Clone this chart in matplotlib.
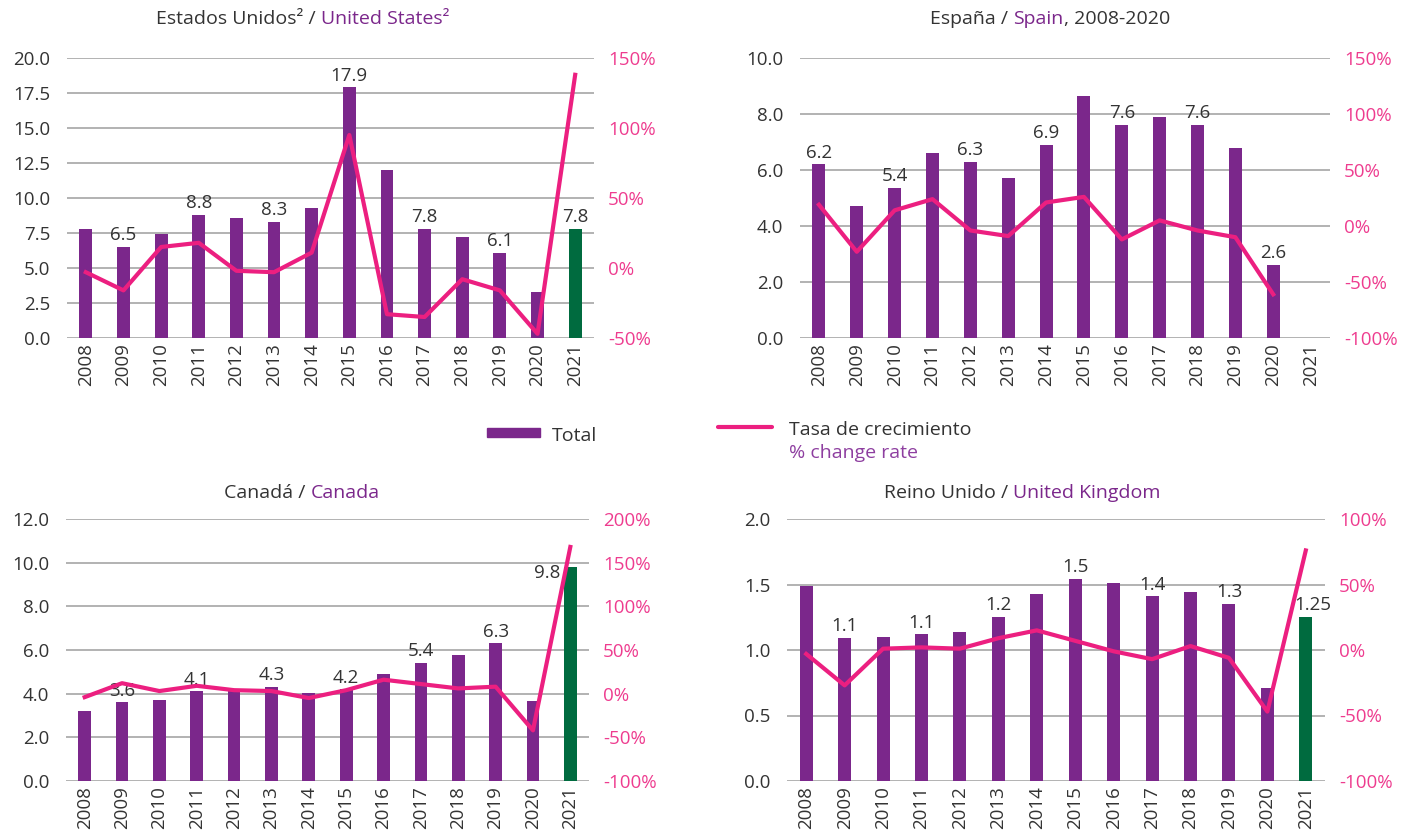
import numpy as np
import matplotlib
matplotlib.use("Agg")
import matplotlib.pyplot as plt
from matplotlib.ticker import FuncFormatter
from matplotlib.offsetbox import TextArea, HPacker, AnchoredOffsetbox
from matplotlib.patches import Rectangle
from matplotlib.lines import Line2D

plt.rcParams["font.family"] = ["Open Sans", "DejaVu Sans"]

years = ["2008", "2009", "2010", "2011", "2012", "2013", "2014",
         "2015", "2016", "2017", "2018", "2019", "2020", "2021"]

# Estados Unidos
us_total = [7.8, 6.5, 7.4, 8.8, 8.6, 8.3, 9.3, 17.9, 12.0, 7.8, 7.2, 6.1, 3.3, 7.8]
us_rate = [-3, -16, 15, 18, -2, -3, 11, 95, -33, -35, -8, -16, -47, 138]
us_labels = {"2009": "6.5", "2011": "8.8", "2013": "8.3", "2015": "17.9",
             "2017": "7.8", "2019": "6.1", "2021": "7.8"}

# España (sin 2021)
es_total = [6.2, 4.7, 5.35, 6.6, 6.3, 5.7, 6.9, 8.65, 7.6, 7.9, 7.6, 6.8, 2.6]
es_rate = [19, -23, 14, 24, -4, -9, 21, 26, -12, 5, -4, -10, -61]
es_labels = {"2008": "6.2", "2010": "5.4", "2012": "6.3", "2014": "6.9",
             "2016": "7.6", "2018": "7.6", "2020": "2.6"}

# Canadá
ca_total = [3.2, 3.6, 3.7, 4.1, 4.1, 4.3, 4.05, 4.2, 4.9, 5.4, 5.75, 6.3, 3.65, 9.8]
ca_rate = [-4, 12, 3, 9, 4, 3, -5, 4, 16, 11, 6, 8, -42, 168]
ca_labels = {"2009": "3.6", "2011": "4.1", "2013": "4.3", "2015": "4.2",
             "2017": "5.4", "2019": "6.3", "2021": "9.8"}

# Reino Unido
uk_total = [1.49, 1.09, 1.10, 1.12, 1.14, 1.25, 1.43, 1.54, 1.51, 1.41, 1.44, 1.35, 0.71, 1.25]
uk_rate = [-3, -27, 1, 2, 1, 9, 15, 7, -1, -7, 3, -6, -47, 76]
uk_labels = {"2009": "1.1", "2011": "1.1", "2013": "1.2", "2015": "1.5",
             "2017": "1.4", "2019": "1.3", "2021": "1.25"}

PURPLE = "#7B278B"
GREEN = "#006B3F"
PINK = "#EC1F80"
PINK_TXT = "#EE3C8F"
DARK = "#333333"
GRID = "#A6A6A6"

W, H = 1408, 836
fig = plt.figure(figsize=(W / 100, H / 100), dpi=100)


def px_axes(left, right, top, bottom):
    return fig.add_axes([left / W, (H - bottom) / H, (right - left) / W, (bottom - top) / H])


def two_tone_title(x, y, parts):
    boxes = [TextArea(t, textprops=dict(color=c, fontsize=14)) for t, c in parts]
    pack = HPacker(children=boxes, align="baseline", pad=0, sep=0)
    ab = AnchoredOffsetbox(loc="center", child=pack, pad=0, borderpad=0,
                           bbox_to_anchor=(x / W, 1 - y / H),
                           bbox_transform=fig.transFigure, frameon=False)
    fig.add_artist(ab)


def panel(box, total, rate, labels, ylim, ystep, rlim, rstep, green_last=True,
          label_shift=None):
    ax = px_axes(*box)
    x = np.arange(len(years))
    n = len(total)
    colors = [PURPLE] * n
    if green_last and n == len(years):
        colors[-1] = GREEN
    ax.bar(x[:n], total, width=0.34, color=colors, zorder=2)
    for yr, txt in labels.items():
        i = years.index(yr)
        dx, dy, ha = 0, 2, "center"
        if label_shift and yr in label_shift:
            dx, dy, ha = label_shift[yr]
        ax.annotate(txt, (i, total[i]), xytext=(dx, dy), textcoords="offset points",
                    ha=ha, va="bottom", fontsize=13.5, color=DARK, zorder=5)
    ax.set_xlim(-0.5, len(years) - 0.5)
    ax.set_ylim(*ylim)
    ax.set_yticks(np.arange(ylim[0], ylim[1] + ystep / 2, ystep))
    ax.yaxis.set_major_formatter(FuncFormatter(lambda v, p: f"{v:.1f}"))
    ax.set_xticks(x)
    ax.set_xticklabels(years, rotation=90)
    ax.grid(axis="y", color=GRID, linewidth=1.2, zorder=0)
    ax.set_axisbelow(True)
    for s in ax.spines.values():
        s.set_visible(False)
    ax.tick_params(length=0, labelsize=13.5, colors=DARK, pad=12)
    ax.tick_params(axis="x", pad=4)

    ax2 = ax.twinx()
    ax2.plot(x[:len(rate)], rate, color=PINK, linewidth=3, solid_joinstyle="round", zorder=3)
    ax2.set_ylim(*rlim)
    ax2.set_yticks(np.arange(rlim[0], rlim[1] + rstep / 2, rstep))
    ax2.yaxis.set_major_formatter(FuncFormatter(lambda v, p: f"{v:.0f}%"))
    for s in ax2.spines.values():
        s.set_visible(False)
    ax2.tick_params(length=0, labelsize=13.5, colors=PINK_TXT, pad=10)
    return ax, ax2


panel((67, 594, 58, 338), us_total, us_rate, us_labels, (0, 20), 2.5, (-50, 150), 50)
panel((800, 1330, 58, 338), es_total, es_rate, es_labels, (0, 10), 2, (-100, 150), 50)
panel((66, 589, 519, 781), ca_total, ca_rate, ca_labels, (0, 12), 2, (-100, 200), 50,
      label_shift={"2021": (-7, -11, "right")})
panel((787, 1325, 519, 781), uk_total, uk_rate, uk_labels, (0, 2), 0.5, (-100, 100), 50,
      label_shift={"2021": (5, 2, "center")})

two_tone_title(303, 19, [("Estados Unidos² / ", DARK), ("United States²", PURPLE)])
two_tone_title(1050, 19, [("España / ", DARK), ("Spain", PURPLE), (", 2008-2020", DARK)])
two_tone_title(302, 493, [("Canadá / ", DARK), ("Canada", PURPLE)])
two_tone_title(1022, 493, [("Reino Unido / ", DARK), ("United Kingdom", PURPLE)])

# leyenda
fig.add_artist(Rectangle((487 / W, 1 - 437 / H), 53 / W, 9 / H, transform=fig.transFigure,
                         color=PURPLE))
fig.text(552 / W, 1 - 436 / H, "Total", fontsize=14, color=DARK, va="center")
fig.add_artist(Line2D([718 / W, 772 / W], [1 - 427 / H, 1 - 427 / H], transform=fig.transFigure,
                      color=PINK, linewidth=3, solid_capstyle="round"))
fig.text(789 / W, 1 - 430 / H, "Tasa de crecimiento", fontsize=14, color=DARK, va="center")
fig.text(789 / W, 1 - 453 / H, "% change rate", fontsize=14, color="#8E3FA0", va="center")

fig.savefig("out.png", dpi=100)
